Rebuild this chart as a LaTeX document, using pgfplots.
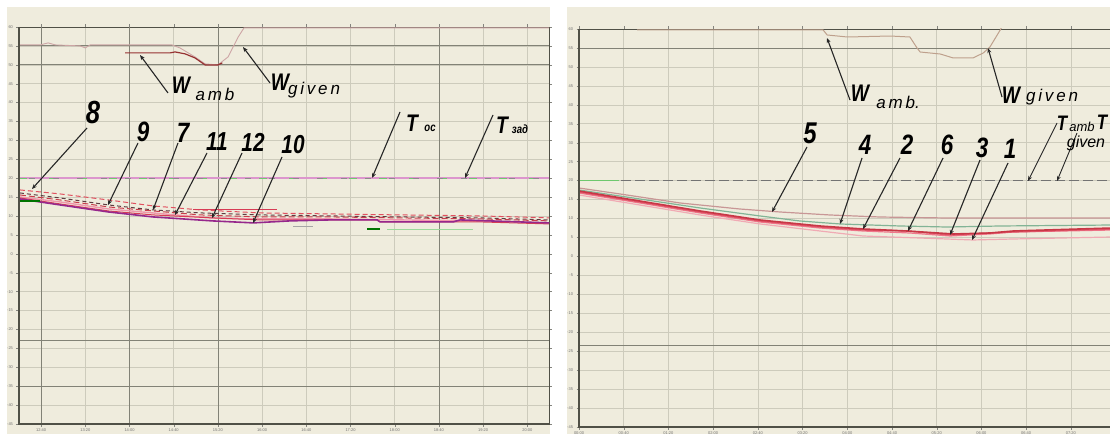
\documentclass[border=0pt]{standalone}
\usepackage{pgfplots}
\pgfplotsset{compat=1.18}
\usepackage{graphicx}
\usepackage{fontspec}
\setmainfont{Liberation Sans}
\usetikzlibrary{arrows.meta}
\definecolor{bgc}{RGB}{239,236,221}
\definecolor{gridc}{RGB}{205,203,188}
\definecolor{darkgrid}{RGB}{130,130,118}
\definecolor{framec}{RGB}{80,80,70}
\definecolor{wgivL}{RGB}{205,165,165}
\definecolor{wambL}{RGB}{150,50,50}
\definecolor{wR}{RGB}{190,160,140}
\definecolor{tmag}{RGB}{220,150,205}
\definecolor{tgreen}{RGB}{110,200,110}
\definecolor{cEight}{RGB}{225,80,95}
\definecolor{cNine}{RGB}{95,60,65}
\definecolor{cSeven}{RGB}{200,60,75}
\definecolor{cEleven}{RGB}{240,150,170}
\definecolor{cTwelve}{RGB}{215,60,85}
\definecolor{cTen}{RGB}{150,40,140}
\definecolor{cFive}{RGB}{200,150,150}
\definecolor{cFour}{RGB}{130,180,150}
\definecolor{cTwo}{RGB}{200,55,70}
\definecolor{cSix}{RGB}{225,85,105}
\definecolor{cThree}{RGB}{240,120,140}
\definecolor{cOne}{RGB}{240,170,180}
\newcommand\nm[1]{\scalebox{0.8}[1]{\bfseries\itshape #1}}
\pgfplotsset{panel/.style={
  scale only axis, anchor=south west,
  ymin=-45, ymax=60, ytick={-45,-40,...,60},
  yticklabels={-45,-40,-35,-30,-25,-20,-15,-10,-5,0,5,10,15,20,25,30,35,40,45,50,55,60},
  xtick={0,...,11},
  grid=major, major grid style={draw=gridc, line width=0.6pt},
  axis line style={draw=framec, line width=0.6pt},
  tick style={draw=framec!70, line width=0.4pt},
  major tick length=2.5pt, tick align=outside,
  ticklabel style={font=\fontsize{4}{4}\selectfont, text=black!55},
  xticklabel style={yshift=1pt},
  extra tick style={major grid style={draw=darkgrid, line width=0.8pt}, major tick length=0pt},
  clip=true}}
\tikzset{ar/.style={black!85, line width=1.1pt, -{Stealth[length=5pt,width=4pt]}},
  num/.style={font=\fontsize{28}{28}\selectfont, inner sep=0pt}}
\begin{document}
\begin{tikzpicture}[x=1pt,y=1pt]
\path[use as bounding box] (0,0) rectangle (1110,434);
\fill[white] (0,0) rectangle (1110,434);
\fill[bgc] (7,0) rectangle (550,427);
\fill[bgc] (567,0) rectangle (1112,427);

% ---------------- left panel ----------------
\begin{axis}[panel, name=L, at={(19pt,10pt)}, width=530pt, height=397pt,
  xmin=-0.5, xmax=11.49,
  xticklabels={12:40,13:20,14:00,14:40,15:20,16:00,16:40,17:20,18:00,18:40,19:20,20:00},
  extra y ticks={55,50,-23,-35}, extra y tick labels={},
  extra x ticks={0,2,4,9}, extra x tick labels={}]
% W given
\addplot[wgivL, line width=0.9pt] coordinates {(-0.50,55.26)(-0.02,55.26)(0.16,55.79)(0.32,55.26)(0.88,55.00)(1.00,54.47)(1.11,55.26)(2.06,55.26)(2.96,55.26)(3.14,54.47)(3.48,52.09)(3.71,50.24)(4.00,49.97)(4.23,52.09)(4.46,57.38)(4.59,59.76)(11.49,59.76)};
% W amb
\addplot[wambL, line width=1.2pt] coordinates {(1.90,53.15)(2.92,53.15)(3.03,53.41)(3.26,52.88)(3.48,51.83)(3.71,49.97)(4.00,49.97)(4.10,50.50)};
% T zad / T oc
\addplot[tmag, line width=1.6pt] coordinates {(-0.5,20)(11.49,20)};
\addplot[tgreen, line width=1.2pt, dash pattern=on 8pt off 22pt] coordinates {(-0.5,20)(11.49,20)};
\addplot[black!45, line width=0.8pt, dash pattern=on 6pt off 18pt, dash phase=14pt] coordinates {(-0.5,20)(11.49,20)};
% curves 7-12
\addplot[cEight, line width=1.0pt, dash pattern=on 5pt off 3pt] coordinates {(-0.48,16.91)(0.43,15.85)(1.52,14.26)(2.53,12.68)(3.60,11.62)(4.95,10.83)(6.54,10.56)(8.12,10.30)(9.93,10.04)(11.49,9.51)};
\addplot[cNine, line width=1.0pt, dash pattern=on 4pt off 3pt] coordinates {(-0.48,16.11)(0.43,14.79)(1.52,12.94)(2.53,11.62)(3.60,10.83)(4.95,10.30)(6.54,10.04)(8.12,9.77)(9.93,9.51)(11.49,8.98)};
\addplot[cSeven, line width=1.0pt, dash pattern=on 6pt off 3pt] coordinates {(-0.48,15.58)(0.43,14.26)(1.52,12.41)(2.53,11.35)(3.60,10.30)(4.95,9.77)(6.54,9.77)(8.12,9.51)(9.93,9.24)(11.49,8.72)};
\addplot[cEleven, line width=1.4pt] coordinates {(-0.48,15.05)(0.43,13.73)(1.52,11.88)(3.03,10.30)(3.87,9.51)(4.95,9.24)(6.54,9.24)(8.12,8.98)(9.93,8.72)(11.49,8.19)};
\addplot[cTwelve, line width=1.0pt] coordinates {(-0.48,14.79)(0.43,13.20)(1.52,11.35)(2.53,10.30)(3.87,9.51)(4.95,8.98)(6.54,8.98)(7.60,8.98)(7.67,8.45)(9.93,8.45)(11.49,7.92)};
\addplot[cTen, line width=1.6pt] coordinates {(-0.48,14.52)(0.43,12.94)(1.52,11.09)(2.53,9.77)(3.87,8.72)(4.80,8.19)(5.63,8.72)(6.54,8.98)(7.60,8.98)(7.67,8.45)(9.32,8.45)(9.48,8.98)(11.49,8.19)};
% short step segments
\addplot[green!45!black, line width=1.2pt] coordinates {(-0.50,14.0)(-0.02,14.0)};
\addplot[green!45!black, line width=1.2pt] coordinates {(7.38,6.60)(7.67,6.60)};
\addplot[tgreen!70, line width=1.0pt] coordinates {(7.83,6.33)(9.77,6.33)};
\addplot[black!35, line width=1.0pt] coordinates {(5.70,7.13)(6.15,7.13)};
\addplot[cTwelve, line width=0.8pt] coordinates {(3.44,11.88)(5.34,11.88)};
\end{axis}
\draw[framec, line width=1.6pt] (L.north west) -- (L.south west) -- (L.south east);

% ---------------- right panel ----------------
\begin{axis}[panel, name=R, at={(579pt,7pt)}, width=533pt, height=398pt,
  xmin=0, xmax=11.92,
  xticklabels={00:00,00:40,01:20,02:00,02:40,03:20,04:00,04:40,05:20,06:00,06:40,07:20},
  extra y ticks={55,-23.4}, extra y tick labels={}]
\addplot[wR, line width=1.0pt] coordinates {(1.30,59.74)(5.46,59.74)(5.55,58.42)(6.00,57.89)(6.96,58.15)(7.40,57.89)(7.56,54.99)(7.63,53.93)(8.08,53.40)(8.37,52.35)(8.81,52.35)(9.04,53.67)(9.19,55.25)(9.42,59.74)(9.51,61.80)};
% T amb / T given
\addplot[black!55, line width=0.8pt, dash pattern=on 10pt off 4pt] coordinates {(0,20)(11.92,20)};
\addplot[tgreen, line width=1.0pt] coordinates {(0,20)(0.9,20)};
% curves 1-6
\addplot[cFive, line width=1.2pt] coordinates {(0,18.05)(0.92,16.47)(2.26,14.10)(3.60,12.51)(4.50,11.72)(5.62,10.93)(6.73,10.40)(8.23,10.14)(9.71,10.14)(11.92,10.14)};
\addplot[cFour, line width=1.2pt] coordinates {(0,17.53)(1.36,15.15)(2.71,12.78)(4.05,10.67)(4.94,9.35)(5.84,8.56)(7.18,8.03)(8.23,7.76)(9.42,8.03)(11.92,8.29)};
\addplot[cOne, line width=1.2pt] coordinates {(0,16.21)(1.36,13.57)(2.71,10.93)(4.05,8.56)(5.39,6.71)(6.35,5.39)(7.63,4.86)(8.81,4.34)(9.71,4.60)(11.92,5.13)};
\addplot[cThree, line width=1.2pt] coordinates {(0,16.73)(1.36,14.10)(2.71,11.46)(4.05,9.08)(5.39,7.50)(6.35,6.71)(7.40,6.18)(8.30,5.39)(9.19,5.92)(9.71,6.45)(11.92,6.97)};
\addplot[cSix, line width=1.4pt] coordinates {(0,17.00)(1.36,14.36)(2.71,11.72)(4.05,9.35)(5.39,7.76)(6.35,6.97)(7.34,6.71)(8.30,5.65)(9.19,6.18)(9.71,6.45)(11.92,7.24)};
\addplot[cTwo, line width=1.6pt] coordinates {(0,17.26)(1.36,14.62)(2.71,11.99)(4.05,9.61)(5.39,8.03)(6.35,7.24)(7.34,6.71)(8.37,5.92)(9.19,6.18)(9.71,6.71)(11.92,7.50)};
\end{axis}
\draw[framec, line width=1.6pt] (R.north west) -- (R.south west) -- (R.south east);

% ---------------- annotations, left ----------------
\node[num, font=\fontsize{32}{32}\selectfont] at (93,322) {\nm{8}};
\node[num] at (143,302) {\nm{9}};
\node[num] at (183,301) {\nm{7}};
\node[num, font=\fontsize{26}{26}\selectfont] at (217,292) {\nm{11}};
\node[num, font=\fontsize{26}{26}\selectfont] at (253,292) {\nm{12}};
\node[num, font=\fontsize{26}{26}\selectfont] at (293,289) {\nm{10}};
\draw[ar] (87,306) -- (32,245);
\draw[ar] (138,291) -- (108,229);
\draw[ar] (178,291) -- (153,224);
\draw[ar] (207,281) -- (175,219);
\draw[ar] (242,281) -- (212,216);
\draw[ar] (282,277) -- (253,211);
\draw[ar] (168,341) -- (140,379);
\draw[ar] (270,351) -- (243,387);
\draw[ar] (400,322) -- (372,256);
\draw[ar] (493,319) -- (465,256);
\node[inner sep=0, font=\fontsize{24}{24}\selectfont] at (181,349) {\nm{W}};
\node[inner sep=0, font=\fontsize{17}{17}\selectfont\itshape] at (215,340) {a\,m\,b};
\node[inner sep=0, font=\fontsize{24}{24}\selectfont] at (280,352) {\nm{W}};
\node[inner sep=0, font=\fontsize{17}{17}\selectfont\itshape] at (314,344) {g\,i\,v\,e\,n};
\node[inner sep=0, font=\fontsize{24}{24}\selectfont] at (412,311) {\nm{T}};
\node[inner sep=0, font=\fontsize{12}{12}\selectfont] at (430,306) {\nm{ос}};
\node[inner sep=0, font=\fontsize{24}{24}\selectfont] at (502,309) {\nm{T}};
\node[inner sep=0, font=\fontsize{12}{12}\selectfont] at (520,305) {\nm{зад}};

% ---------------- annotations, right ----------------
\node[num, font=\fontsize{30}{30}\selectfont] at (810,301) {\nm{5}};
\node[num] at (865,289) {\nm{4}};
\node[num] at (907,289) {\nm{2}};
\node[num] at (947,289) {\nm{6}};
\node[num] at (982,286) {\nm{3}};
\node[num] at (1010,285) {\nm{1}};
\draw[ar] (807,287) -- (772,222);
\draw[ar] (862,276) -- (840,210);
\draw[ar] (900,276) -- (863,205);
\draw[ar] (943,276) -- (908,203);
\draw[ar] (980,274) -- (950,199);
\draw[ar] (1008,271) -- (972,194);
\draw[ar] (850,334) -- (827,396);
\draw[ar] (1002,337) -- (988,386);
\draw[ar, line width=0.9pt] (1057,311) -- (1028,253);
\draw[ar, line width=0.9pt] (1077,301) -- (1057,253);
\node[inner sep=0, font=\fontsize{24}{24}\selectfont] at (860,341) {\nm{W}};
\node[inner sep=0, font=\fontsize{17}{17}\selectfont\itshape] at (898,332) {a\,m\,b.};
\node[inner sep=0, font=\fontsize{24}{24}\selectfont] at (1011,339) {\nm{W}};
\node[inner sep=0, font=\fontsize{17}{17}\selectfont\itshape] at (1052,337) {g\,i\,v\,e\,n};
\node[inner sep=0, font=\fontsize{21}{21}\selectfont] at (1062,311) {\nm{T}};
\node[inner sep=0, font=\fontsize{13}{13}\selectfont\itshape] at (1082,307) {amb};
\node[inner sep=0, font=\fontsize{21}{21}\selectfont] at (1102,312) {\nm{T}};
\node[inner sep=0, font=\fontsize{16}{16}\selectfont\itshape] at (1086,291) {given};
\end{tikzpicture}
\end{document}
